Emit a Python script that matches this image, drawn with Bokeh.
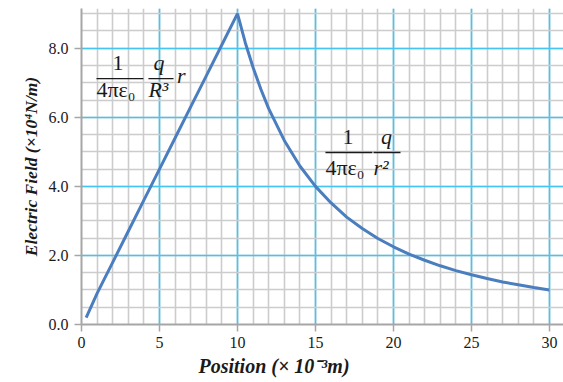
from bokeh.plotting import figure
from bokeh.models import Range1d, SingleIntervalTicker, PrintfTickFormatter, Label, Title
from bokeh.core.properties import value
from bokeh.embed import file_html
from bokeh.resources import INLINE

# ---- data ----
position = [0.3, 1, 2, 3, 4, 5, 6, 7, 8, 9, 10, 10.5, 11, 11.5, 12, 13, 14, 15, 16, 17,
            18, 19, 20, 21, 22, 23, 24, 25, 26, 27, 28, 29, 30]
field = [0.2, 0.9, 1.8, 2.7, 3.6, 4.5, 5.4, 6.3, 7.2, 8.1, 9.0, 8.16, 7.44, 6.81, 6.25,
         5.33, 4.59, 4.0, 3.52, 3.11, 2.78, 2.49, 2.25, 2.04, 1.86, 1.70, 1.56, 1.44,
         1.33, 1.23, 1.15, 1.07, 1.0]

x_label = "Position (× 10⁻³m)"
y_label = "Electric Field (×10⁴N/m)"

SERIF = "Liberation Serif"
MAJOR = "#45c6f2"
MINOR = "#cccccc"

p = figure(width=563, height=382, output_backend="svg", toolbar_location=None,
           x_range=Range1d(0, 30.9), y_range=Range1d(0, 9.15),
           min_border_left=81, min_border_right=0, min_border_top=8,
           min_border_bottom=58)
p.outline_line_color = None
p.background_fill_color = "white"

p.xaxis.ticker = SingleIntervalTicker(interval=5, num_minor_ticks=5)
p.yaxis.ticker = SingleIntervalTicker(interval=2, num_minor_ticks=4)
p.xgrid.ticker = p.xaxis.ticker
p.ygrid.ticker = p.yaxis.ticker
p.yaxis.formatter = PrintfTickFormatter(format="%.1f")

for g in (p.xgrid, p.ygrid):
    g.grid_line_color = MAJOR
    g.grid_line_width = 1.6
    g.grid_line_alpha = 1.0
    g.minor_grid_line_color = MINOR
    g.minor_grid_line_width = 1.6

for ax in (p.xaxis, p.yaxis):
    ax.axis_line_color = "#a6a6a6"
    ax.axis_line_width = 2
    ax.major_tick_line_color = "#a6a6a6"
    ax.major_tick_line_width = 1.5
    ax.major_tick_out = 7
    ax.major_tick_in = 0
    ax.minor_tick_line_color = None
    ax.major_label_text_font = SERIF
    ax.major_label_text_font_size = "16px"
    ax.major_label_text_color = "#1a1a1a"

p.xaxis.major_label_standoff = 5
p.yaxis.major_label_standoff = 6

p.yaxis.axis_label = y_label
p.yaxis.axis_label_text_font = SERIF
p.yaxis.axis_label_text_font_style = "bold italic"
p.yaxis.axis_label_text_font_size = "17.5px"
p.yaxis.axis_label_text_color = "#1a1a1a"
p.yaxis.axis_label_standoff = 5

p.add_layout(Title(text=x_label, align="left", offset=117, standoff=5,
                   text_font=SERIF, text_font_style="bold italic",
                   text_font_size="20px", text_color="#1a1a1a"), "below")

p.line(position, field, line_color="#4a7ebf", line_width=3)

# ---- formula annotations ----
def txt(x, y, s, style="normal", align="left", size="22px"):
    p.add_layout(Label(x=x, y=y, text=s, text_font=SERIF, text_font_style=style,
                       text_font_size=size, text_color="#1a1a1a",
                       text_align=align, text_baseline="alphabetic"))

bar_x0 = [0.96, 4.29, 15.64, 18.72]
bar_x1 = [3.97, 5.90, 18.65, 20.45]
bar_y = [7.12, 7.12, 4.98, 4.98]
p.segment(x0=bar_x0, y0=bar_y, x1=bar_x1, y1=bar_y, line_color="#1a1a1a", line_width=1.3)

# inside the sphere: E = 1/(4 pi eps0) * q/R^3 * r
txt(2.34, 7.58, "1", align="center")
txt(0.96, 6.80, "4πε₀")
txt(4.97, 7.58, "q", style="italic", align="center")
txt(4.29, 6.80, "R³", style="italic")
txt(6.12, 7.21, "r", style="italic")

# outside: E = 1/(4 pi eps0) * q/r^2
txt(17.08, 5.43, "1", align="center")
txt(15.64, 4.55, "4πε₀")
txt(19.55, 5.43, "q", style="italic", align="center")
txt(18.72, 4.55, "r²", style="italic")

open("out.html", "w").write(file_html(p, INLINE))
